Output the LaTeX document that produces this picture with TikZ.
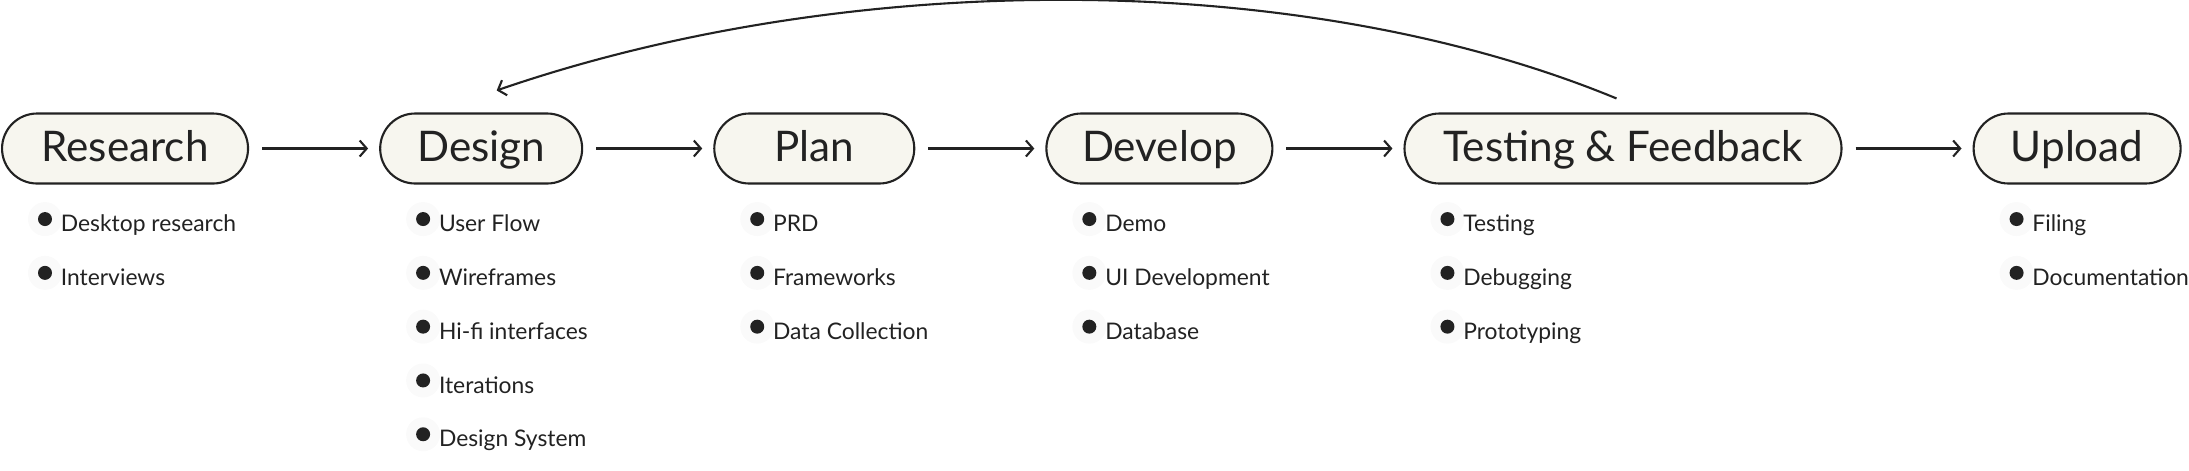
\documentclass[tikz,border=0pt]{standalone}
\usepackage{fontspec}
\setmainfont{Lato}
\usetikzlibrary{positioning, arrows.meta}
\definecolor{ink}{HTML}{222222}
\definecolor{cream}{HTML}{F7F6EF}

\begin{document}
\begin{tikzpicture}[
        >={Straight Barb[length=0.07cm, width=0.16cm]},
        node distance=1.30cm,
        stage/.style={draw=ink, text=ink, line width=0.6pt, fill=cream, rounded corners=0.35cm,
            minimum height=0.7cm, inner sep=0pt, font=\fontsize{12}{14}\selectfont,
            text height=0.72em, text depth=0pt},
        dot/.style={circle, fill=ink, inner sep=0pt, minimum size=0.14cm},
        halo/.style={circle, fill=black!2, inner sep=0pt, minimum size=0.34cm},
        item/.style={text=ink, inner sep=0pt, anchor=west, font=\fontsize{6.5}{8}\selectfont,
            text height=0.72em, text depth=0pt},
        flow/.style={->, draw=ink, line width=0.6pt, shorten <=0.13cm, shorten >=0.11cm}
    ]
    \useasboundingbox (0,0) rectangle (21.89,-4.70);

    \node[stage, minimum width=2.46cm, anchor=west] (research) at (0.01,-1.485) {Research};
    \node[stage, minimum width=2.02cm, right=of research] (design) {Design};
    \node[stage, minimum width=2.00cm, right=of design] (plan) {Plan};
    \node[stage, minimum width=2.26cm, right=of plan] (develop) {Develop};
    \node[stage, minimum width=4.37cm, right=of develop] (testing) {Testing \& Feedback};
    \node[stage, minimum width=2.07cm, right=of testing] (upload) {Upload};

    \path[flow]
        (research) edge (design)
        (design) edge (plan)
        (plan) edge (develop)
        (develop) edge (testing)
        (testing) edge (upload);

    \coordinate (back-start) at ([xshift=-0.065cm, yshift=0.14cm]testing.north);
    \coordinate (back-end) at ([xshift=0.155cm, yshift=0.22cm]design.north);
    \draw[->, draw=ink, line width=0.6pt] (back-start) .. controls +(-3.15,1.30) and +(3.54,1.22) .. (back-end);

    \foreach \s/\items in {research/{Desktop research,Interviews},
            design/{User Flow,Wireframes,Hi-fi interfaces,Iterations,Design System},
            plan/{PRD,Frameworks,Data Collection},
            develop/{Demo,UI Development,Database},
            testing/{Testing,Debugging,Prototyping},
            upload/{Filing,Documentation}} {
        \foreach \t [count=\i] in \items {
            \node[halo] at ([shift={(0.44,{-0.345-0.538*(\i-1)})}]\s.south west) {};
            \node[dot] (\s-dot-\i) at ([shift={(0.44,{-0.345-0.538*(\i-1)})}]\s.south west) {};
            \node[item, right=0.075cm of \s-dot-\i] (\s-item-\i) {\t};
        }
    }
\end{tikzpicture}
\end{document}
